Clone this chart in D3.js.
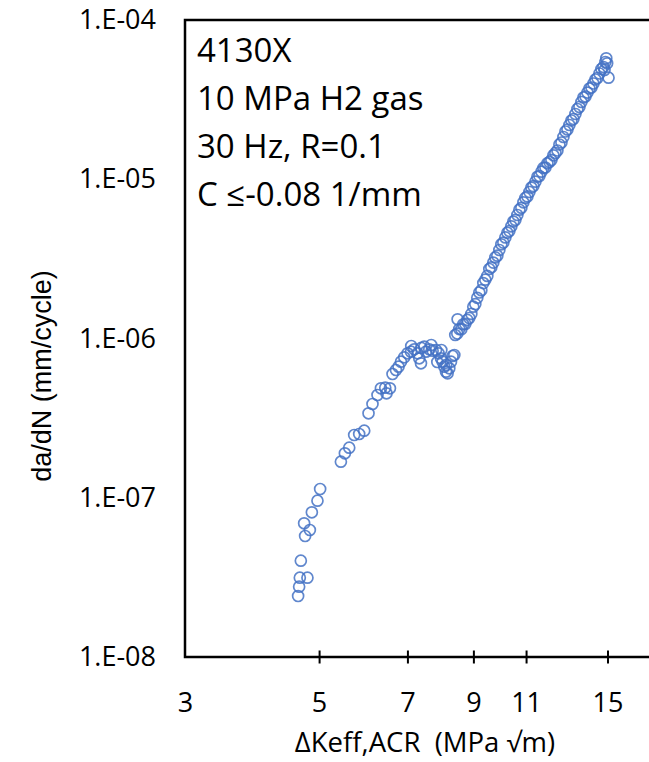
<!DOCTYPE html>
<html>
<head>
<meta charset="utf-8">
<script src="https://cdn.jsdelivr.net/npm/d3@7"></script>
<style>
  body { margin: 0; background: #fff; }
  svg text { font-family: "Open Sans", sans-serif; fill: #000; }
</style>
</head>
<body>
<div id="chart"></div>
<script>
// crack growth rate vs effective stress intensity range
const deltaK = [
  // near-threshold part
  4.616, 4.634, 4.646, 4.783, 4.664, 4.741, 4.827, 4.723, 4.864, 4.969, 5.020,
  // transition / hump
  5.433, 5.516, 5.608, 5.715, 5.825, 5.938, 6.036, 6.128, 6.246, 6.328, 6.433, 6.549, 6.464,
  6.614, 6.701, 6.767, 6.830, 6.916, 7.004, 7.095, 7.185, 7.276, 7.323, 7.371, 7.464, 7.513,
  7.608, 7.705, 7.805, 7.883, 7.955, 8.004, 8.056, 8.108, 8.158, 8.211, 8.264, 8.315, 8.369,
  7.103, 7.379, 7.666, 7.965, 7.844, 8.117, 8.475,
  // Paris region
  8.400, 8.464, 8.529, 8.595, 8.660, 8.727, 8.794, 8.861, 8.929, 8.997,
  9.066, 9.135, 9.205, 9.276, 9.347, 9.418, 9.490, 9.563, 9.636, 9.710,
  9.784, 9.859, 9.935, 10.011, 10.088, 10.165, 10.243, 10.321, 10.400, 10.480,
  10.560, 10.641, 10.723, 10.805, 10.888, 10.971, 11.055, 11.140, 11.225, 11.311,
  11.398, 11.485, 11.573, 11.662, 11.751, 11.841, 11.932, 12.023, 12.115, 12.208,
  12.301, 12.395, 12.490, 12.586, 12.682, 12.779, 12.877, 12.975, 13.074, 13.174,
  13.275, 13.377, 13.479, 13.582, 13.686, 13.791, 13.897, 14.003, 14.110, 14.218,
  14.327, 14.437, 14.547, 14.658, 14.770, 14.883, 14.93, 14.98, 15.06, 14.83
];

const dadN = [
  2.415e-8, 2.764e-8, 3.148e-8, 3.148e-8, 4.024e-8, 5.753e-8, 6.273e-8, 6.911e-8, 8.102e-8, 9.583e-8, 1.135e-7,
  1.684e-7, 1.901e-7, 2.062e-7, 2.477e-7, 2.513e-7, 2.637e-7, 3.391e-7, 3.879e-7, 4.418e-7, 4.868e-7, 4.911e-7, 4.868e-7, 4.528e-7,
  5.986e-7, 6.341e-7, 6.651e-7, 7.151e-7, 7.620e-7, 8.073e-7, 8.261e-7, 8.553e-7, 8.073e-7, 7.511e-7, 6.988e-7, 8.880e-7, 8.261e-7,
  8.553e-7, 8.381e-7, 8.467e-7, 8.073e-7, 7.511e-7, 7.151e-7, 6.651e-7, 6.187e-7, 6.046e-7, 6.500e-7, 7.151e-7, 7.765e-7, 7.879e-7,
  8.97e-7, 8.72e-7, 9.10e-7, 8.47e-7, 7.12e-7, 6.82e-7, 1.320e-6,
  1.052e-6, 1.074e-6, 1.146e-6, 1.144e-6, 1.228e-6, 1.235e-6, 1.309e-6, 1.345e-6, 1.427e-6, 1.584e-6,
  1.644e-6, 1.801e-6, 1.945e-6, 2.011e-6, 2.228e-6, 2.340e-6, 2.472e-6, 2.732e-6, 2.800e-6, 2.996e-6,
  3.230e-6, 3.311e-6, 3.594e-6, 3.904e-6, 4.001e-6, 4.313e-6, 4.617e-6, 4.732e-6, 5.065e-6, 5.422e-6,
  5.556e-6, 5.964e-6, 6.439e-6, 6.617e-6, 7.167e-6, 7.637e-6, 7.804e-6, 8.316e-6, 8.862e-6, 9.057e-6,
  9.652e-6, 1.036e-5, 1.048e-5, 1.115e-5, 1.178e-5, 1.184e-5, 1.259e-5, 1.283e-5, 1.319e-5, 1.413e-5,
  1.462e-5, 1.515e-5, 1.653e-5, 1.701e-5, 1.842e-5, 1.995e-5, 2.053e-5, 2.191e-5, 2.338e-5, 2.389e-5,
  2.569e-5, 2.761e-5, 2.842e-5, 3.056e-5, 3.260e-5, 3.308e-5, 3.504e-5, 3.715e-5, 3.768e-5, 3.993e-5,
  4.230e-5, 4.323e-5, 4.614e-5, 4.923e-5, 5.068e-5, 5.449e-5, 5.748e-5, 5.347e-5, 4.342e-5, 4.853e-5
];

const xTicks = [3, 5, 7, 9, 11, 15];
const yTicks = [1e-8, 1e-7, 1e-6, 1e-5, 1e-4];
const noteLines = ["4130X", "10 MPa H2 gas", "30 Hz, R=0.1", "C \u2264-0.08 1/mm"];

const points = deltaK.map((k, i) => ({ k, r: dadN[i] }));

const W = 649, H = 762;
const margin = { top: 20, left: 185, bottom: 105 };
const plotRight = 683; // frame runs past the picture edge

const svg = d3.select("#chart").append("svg")
  .attr("width", W)
  .attr("height", H);

const x = d3.scaleLog().domain([3, 20]).range([margin.left, plotRight]);
const y = d3.scaleLog().domain([1e-8, 1e-4]).range([H - margin.bottom, margin.top]);

// frame
svg.append("rect")
  .attr("x", margin.left)
  .attr("y", margin.top)
  .attr("width", plotRight - margin.left)
  .attr("height", y(1e-8) - margin.top)
  .attr("fill", "none")
  .attr("stroke", "#000")
  .attr("stroke-width", 2.5);

// x axis
const xAxis = svg.append("g")
  .attr("transform", `translate(0,${y(1e-8)})`)
  .call(d3.axisBottom(x).tickValues(xTicks).tickFormat(d3.format("d")).tickSize(6.5).tickPadding(29));
xAxis.select(".domain").remove();
xAxis.selectAll(".tick line")
  .attr("y1", -6.5)
  .attr("stroke", "#000")
  .attr("stroke-width", 2)
  .filter(d => d === 3).remove();
xAxis.selectAll(".tick text")
  .style("font-size", "27px")
  .attr("fill", "#000");

// y axis
const yAxis = svg.append("g")
  .attr("transform", `translate(${margin.left},0)`)
  .call(d3.axisLeft(y).tickValues(yTicks).tickSize(0).tickPadding(29)
    .tickFormat(d => "1.E-" + String(Math.round(-Math.log10(d))).padStart(2, "0")));
yAxis.select(".domain").remove();
yAxis.selectAll(".tick text")
  .style("font-size", "27px")
  .attr("fill", "#000");

// axis titles
svg.append("text")
  .attr("x", 425)
  .attr("y", 752)
  .attr("text-anchor", "middle")
  .style("font-size", "27.5px")
  .style("white-space", "pre")
  .text("\u0394Keff,ACR  (MPa \u221Am)");

svg.append("text")
  .attr("transform", "translate(51,376) rotate(-90)")
  .attr("text-anchor", "middle")
  .style("font-family", "'Liberation Sans', Arial, sans-serif")
  .style("font-size", "27px")
  .text("da/dN (mm/cycle)");

// test conditions
svg.append("g").selectAll("text")
  .data(noteLines)
  .enter().append("text")
  .attr("x", 197)
  .attr("y", (d, i) => 62 + i * 48)
  .style("font-size", "33px")
  .text(d => d);

// data
svg.append("g").selectAll("circle")
  .data(points)
  .enter().append("circle")
  .attr("cx", d => x(d.k))
  .attr("cy", d => y(d.r))
  .attr("r", 5.5)
  .attr("fill", "none")
  .attr("stroke", "#4472C4")
  .attr("stroke-opacity", 0.85)
  .attr("stroke-width", 1.7);
</script>
</body>
</html>
